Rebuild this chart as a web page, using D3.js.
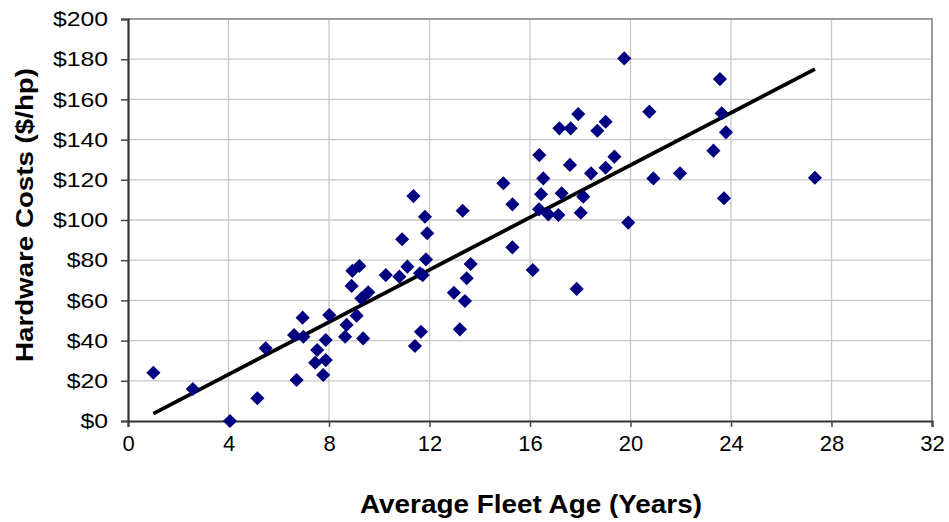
<!DOCTYPE html>
<html>
<head>
<meta charset="utf-8">
<script src="https://cdn.jsdelivr.net/npm/d3@7"></script>
<style>
  html, body { margin: 0; padding: 0; background: #ffffff; }
  svg { display: block; }
  text { font-family: "Liberation Sans", Arial, sans-serif; fill: #000; }
</style>
</head>
<body>
<svg id="chart" width="949" height="522"></svg>
<script>
// Average fleet age (years) for each fleet
const fleetAge = [
  1.01, 2.58, 4.06, 5.15, 5.48, 6.61, 6.71, 6.95, 6.98, 7.53,
  7.45, 7.77, 7.87, 7.87, 8.01, 8.64, 8.70, 9.10, 9.36, 9.29,
  9.56, 8.90, 8.93, 9.21, 10.26, 10.80, 11.12, 11.62, 11.73, 11.86,
  11.91, 11.82, 10.91, 11.36, 11.66, 11.42, 13.21, 12.97, 13.41, 13.48,
  13.64, 13.32, 14.94, 15.30, 15.30, 16.11, 16.37, 16.53, 16.44, 16.36,
  16.73, 17.13, 17.26, 17.59, 17.17, 17.62, 17.92, 18.02, 17.86, 18.12,
  18.43, 18.68, 19.01, 19.01, 19.36, 19.91, 19.75, 20.75, 20.91, 21.97,
  23.30, 23.56, 23.63, 23.80, 23.72, 27.34
];

// Hardware costs ($ per hp) for each fleet, same order
const hardwareCost = [
  24.0, 15.9, 0.0, 11.3, 36.2, 42.8, 20.4, 51.4, 41.9, 35.3,
  29.0, 22.9, 30.3, 40.3, 52.7, 41.9, 47.8, 52.4, 41.1, 61.0,
  64.0, 67.2, 74.7, 77.1, 72.6, 71.8, 76.8, 73.5, 72.6, 80.4,
  93.4, 101.6, 90.4, 111.9, 44.4, 37.3, 45.6, 63.8, 59.7, 71.0,
  78.1, 104.6, 118.3, 107.8, 86.4, 75.1, 132.3, 120.7, 112.8, 105.3,
  102.8, 102.5, 113.3, 127.4, 145.6, 145.6, 152.7, 103.6, 65.7, 111.6,
  123.2, 144.4, 148.9, 126.0, 131.5, 98.7, 180.4, 153.9, 120.7, 123.2,
  134.5, 170.1, 153.1, 143.6, 110.8, 121.0
];

// Linear trend: cost = slope * age + intercept
const trendSlope = 6.51;
const trendIntercept = -2.9;

// Axis ticks
const xTicks = [0, 4, 8, 12, 16, 20, 24, 28, 32];
const yTicks = [0, 20, 40, 60, 80, 100, 120, 140, 160, 180, 200];

const xTitle = "Average Fleet Age (Years)";
const yTitle = "Hardware Costs ($/hp)";

const points = fleetAge.map((a, i) => ({ age: a, cost: hardwareCost[i] }));

const svg = d3.select("#chart");
const plot = { left: 128, right: 932, top: 19, bottom: 421 };

const x = d3.scaleLinear().domain([0, 32]).range([plot.left, plot.right]);
const y = d3.scaleLinear().domain([0, 200]).range([plot.bottom, plot.top]);

// Gridlines
const grid = svg.append("g");
grid.selectAll("line.v").data(xTicks.slice(1, -1)).join("line")
  .attr("x1", d => x(d)).attr("x2", d => x(d))
  .attr("y1", plot.top).attr("y2", plot.bottom)
  .attr("stroke", "#c8c8c8").attr("stroke-width", 1.3);
grid.selectAll("line.h").data(yTicks.slice(1, -1)).join("line")
  .attr("x1", plot.left).attr("x2", plot.right)
  .attr("y1", d => y(d)).attr("y2", d => y(d))
  .attr("stroke", "#c8c8c8").attr("stroke-width", 1.3);

// Top and right border
svg.append("path")
  .attr("d", `M${plot.left},${plot.top}H${plot.right}V${plot.bottom}`)
  .attr("fill", "none").attr("stroke", "#9a9a9a").attr("stroke-width", 2);

// Axes
const xAxis = svg.append("g")
  .attr("transform", `translate(0,${plot.bottom})`)
  .call(d3.axisBottom(x).tickValues(xTicks).tickSize(6).tickPadding(8).tickFormat(d3.format("d")));
const yAxis = svg.append("g")
  .attr("transform", `translate(${plot.left},0)`)
  .call(d3.axisLeft(y).tickValues(yTicks).tickSize(7).tickPadding(13).tickFormat(d => "$" + d));

[xAxis, yAxis].forEach(ax => {
  ax.select(".domain").attr("stroke", "#333").attr("stroke-width", 2.2);
  ax.selectAll(".tick line").attr("stroke", "#444").attr("stroke-width", 1.5);
  ax.selectAll(".tick text")
    .attr("font-family", "'Liberation Sans', Arial, sans-serif")
    .attr("fill", "#000");
});
xAxis.selectAll(".tick text").attr("font-size", 22);
yAxis.selectAll(".tick text").attr("font-size", 21)
  .each(function () {
    const t = d3.select(this);
    const w = this.getComputedTextLength();
    t.attr("textLength", w * 1.18).attr("lengthAdjust", "spacingAndGlyphs");
  });

// Trend line across the range of the data
const ageExtent = d3.extent(fleetAge);
const line = d3.line().x(d => x(d)).y(d => y(trendSlope * d + trendIntercept));
svg.append("path")
  .attr("d", line(ageExtent))
  .attr("fill", "none").attr("stroke", "#000").attr("stroke-width", 3.8)
  .attr("stroke-linecap", "butt");

// Diamond markers
const diamond = d3.symbol().type(d3.symbolSquare).size(100);
svg.append("g").selectAll("path").data(points).join("path")
  .attr("d", diamond)
  .attr("transform", d => `translate(${x(d.age)},${y(d.cost)}) rotate(45)`)
  .attr("fill", "#000080");

// Axis titles
svg.append("text")
  .attr("x", 531).attr("y", 513)
  .attr("text-anchor", "middle")
  .attr("font-size", 25).attr("font-weight", "bold")
  .attr("textLength", 342).attr("lengthAdjust", "spacingAndGlyphs")
  .text(xTitle);

svg.append("text")
  .attr("transform", "translate(33,215) rotate(-90)")
  .attr("text-anchor", "middle")
  .attr("font-size", 23).attr("font-weight", "bold")
  .attr("textLength", 294).attr("lengthAdjust", "spacingAndGlyphs")
  .text(yTitle);
</script>
</body>
</html>
